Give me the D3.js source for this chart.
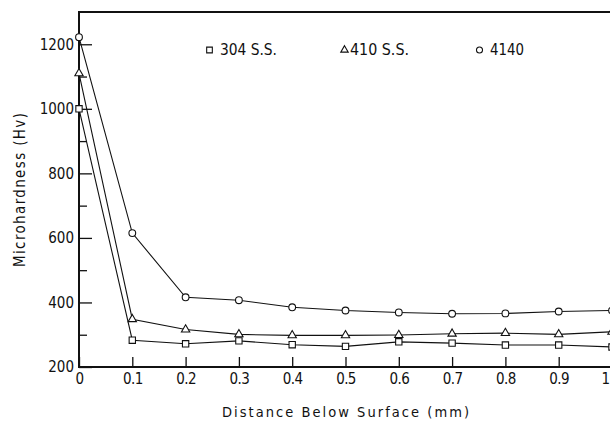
<!DOCTYPE html>
<html>
<head>
<meta charset="utf-8">
<script src="https://cdn.jsdelivr.net/npm/d3@7"></script>
<style>
    body { margin: 0; background: #fff; }
    svg { display: block; }
    text { font-family: "DejaVu Sans Condensed", "DejaVu Sans", sans-serif; fill: #111; }
</style>
</head>
<body>
<svg id="chart" width="610" height="422"></svg>
<script>
// depth below surface (mm)
var depth = [0, 0.1, 0.2, 0.3, 0.4, 0.5, 0.6, 0.7, 0.8, 0.9, 1.0];
// microhardness (Hv) per material
var ss304 = [1000, 283, 272, 281, 269, 264, 278, 274, 268, 268, 262];
var ss410 = [1110, 348, 316, 301, 298, 298, 299, 303, 305, 301, 309];
var aisi4140 = [1222, 615, 416, 407, 385, 375, 369, 365, 366, 372, 375];

var seriesNames = ["304 S.S.", "410 S.S.", "4140"];
var yMajorTicks = [200, 400, 600, 800, 1000, 1200];
var yMinorTicks = [300, 500, 700, 900, 1100];
var xTicks = [0, 0.1, 0.2, 0.3, 0.4, 0.5, 0.6, 0.7, 0.8, 0.9, 1.0];
var xTickLabels = ["0", "0.1", "0.2", "0.3", "0.4", "0.5", "0.6", "0.7", "0.8", "0.9", "1"];

var svg = d3.select("#chart");

var x = d3.scaleLinear().domain([0, 1]).range([79, 612]);
var y = d3.scaleLinear().domain([200, 1300]).range([367, 12]);

var SERIES = [
    { name: seriesNames[0], values: ss304, symbol: d3.symbolSquare, size: 40, lx: 209.5, tx: 220, tl: 57 },
    { name: seriesNames[1], values: ss410, symbol: d3.symbolTriangle, size: 30, lx: 344.5, tx: 350, tl: 59 },
    { name: seriesNames[2], values: aisi4140, symbol: d3.symbolCircle, size: 36, lx: 479.5, tx: 490, tl: 34 }
];

// y axis, major + minor ticks pointing inward
var gY = svg.append("g")
    .attr("transform", "translate(" + x(0) + ",0)")
    .call(d3.axisLeft(y).tickValues(yMajorTicks).tickSize(-13).tickSizeOuter(0).tickPadding(5)
        .tickFormat(d3.format("d")));

svg.append("g")
    .attr("transform", "translate(" + x(0) + ",0)")
    .call(d3.axisLeft(y).tickValues(yMinorTicks).tickSize(-8).tickSizeOuter(0).tickFormat(""));

var gX = svg.append("g")
    .attr("transform", "translate(0," + y(200) + ")")
    .call(d3.axisBottom(x).tickValues(xTicks).tickSize(-10).tickSizeOuter(0).tickPadding(6)
        .tickFormat(function (d, i) { return xTickLabels[i]; }));

svg.selectAll(".domain").remove();
svg.selectAll(".tick line").attr("stroke", "#111").attr("stroke-width", 1.3);
svg.selectAll(".tick text")
    .attr("font-size", "15")
    .style("font-family", "\"DejaVu Sans Condensed\", sans-serif")
    .attr("fill", "#111");
gX.selectAll(".tick text").attr("letter-spacing", "-0.6");

// last label sits on the window edge; keep it inside
gX.selectAll(".tick text")
    .filter(function (d) { return d === 1; })
    .attr("text-anchor", "end")
    .attr("dx", "-3");

// frame: left, bottom, top
svg.append("path")
    .attr("d", "M" + x(1) + "," + y(1300) + "H" + x(0) + "V" + y(200) + "H" + x(1))
    .attr("fill", "none")
    .attr("stroke", "#111")
    .attr("stroke-width", 2);

var line = d3.line()
    .x(function (d, i) { return x(depth[i]); })
    .y(function (d) { return y(d); });

SERIES.forEach(function (s) {
    svg.append("path")
        .datum(s.values)
        .attr("d", line)
        .attr("fill", "none")
        .attr("stroke", "#111")
        .attr("stroke-width", 1.1);

    svg.append("g").selectAll("path")
        .data(s.values)
        .join("path")
        .attr("transform", function (d, i) { return "translate(" + x(depth[i]) + "," + y(d) + ")"; })
        .attr("d", d3.symbol().type(s.symbol).size(s.size))
        .attr("fill", "#fff")
        .attr("stroke", "#111")
        .attr("stroke-width", 1.1);

    // legend
    svg.append("path")
        .attr("transform", "translate(" + s.lx + ",50)")
        .attr("d", d3.symbol().type(s.symbol).size(s.size * 0.8))
        .attr("fill", "#fff")
        .attr("stroke", "#111")
        .attr("stroke-width", 1.1);

    svg.append("text")
        .attr("x", s.tx)
        .attr("y", 55)
        .attr("font-size", "15")
        .attr("textLength", s.tl)
        .attr("lengthAdjust", "spacingAndGlyphs")
        .text(s.name);
});

// axis titles
svg.append("text")
    .attr("x", 222)
    .attr("y", 417)
    .attr("font-size", "14.5")
    .attr("textLength", 247)
    .attr("lengthAdjust", "spacing")
    .text("Distance Below Surface (mm)");

svg.append("text")
    .attr("transform", "translate(25,267) rotate(-90)")
    .attr("font-size", "15")
    .attr("textLength", 154)
    .attr("lengthAdjust", "spacing")
    .text("Microhardness (Hv)");
</script>
</body>
</html>
